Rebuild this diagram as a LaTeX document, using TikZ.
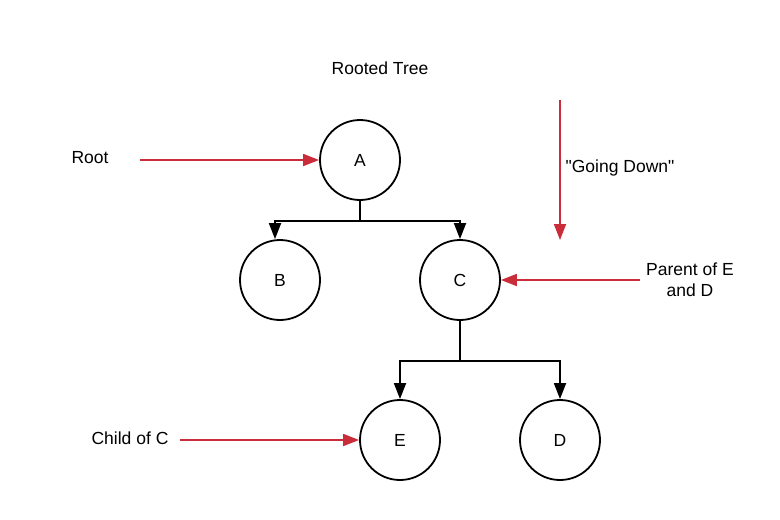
\documentclass[tikz,border=0pt]{standalone}
\usepackage{fontspec}
\setmainfont{Liberation Sans}
\usepackage{tikz}
\usetikzlibrary{arrows.meta}
\definecolor{notered}{HTML}{C92D39}

\begin{document}
\begin{tikzpicture}[x=1pt,y=-1pt,font=\fontsize{17.5}{21}\selectfont,
	vertex/.style={circle,draw,line width=1.8pt,minimum size=80pt,inner sep=0pt},
	tree/.style={line width=1.8pt,-{Triangle[length=16pt,width=12pt]}},
	note/.style={notered,line width=1.8pt,-{Triangle[length=16pt,width=12pt]}}]
	\useasboundingbox (0,0) rectangle (780,520);
	% the tree
	\node[vertex] (A) at (360,160) {A};
	\node[vertex] (B) at (280,280) {B};
	\node[vertex] (C) at (460,280) {C};
	\node[vertex] (E) at (400,440) {E};
	\node[vertex] (D) at (560,440) {D};
	\draw[tree] (A.south) -- ++(0,20) -| ([xshift=-5pt]B.north);
	\draw[tree] (A.south) -- ++(0,20) -| (C.north);
	\draw[tree] (C.south) -- ++(0,40) -| (E.north);
	\draw[tree] (C.south) -- ++(0,40) -| (D.north);
	% labels
	\node (title) at (380,68) {Rooted Tree};
	\node (root) at (90,158) {Root};
	\node (down) at (620,168) {\textquotedbl Going Down\textquotedbl};
	\node[align=center] (parent) at (690,280) {Parent of E\\and D};
	\node (child) at (130,438) {Child of C};
	\coordinate (rootstart) at (140,160);
	\coordinate (downtop) at (560,100);
	\coordinate (downend) at (560,240);
	\coordinate (parentstart) at (640,280);
	\coordinate (childstart) at (180,440);
	\draw[note] (rootstart) -- (A);
	\draw[note] (downtop) -- (downend);
	\draw[note] (parentstart) -- (C);
	\draw[note] (childstart) -- (E);
\end{tikzpicture}
\end{document}
